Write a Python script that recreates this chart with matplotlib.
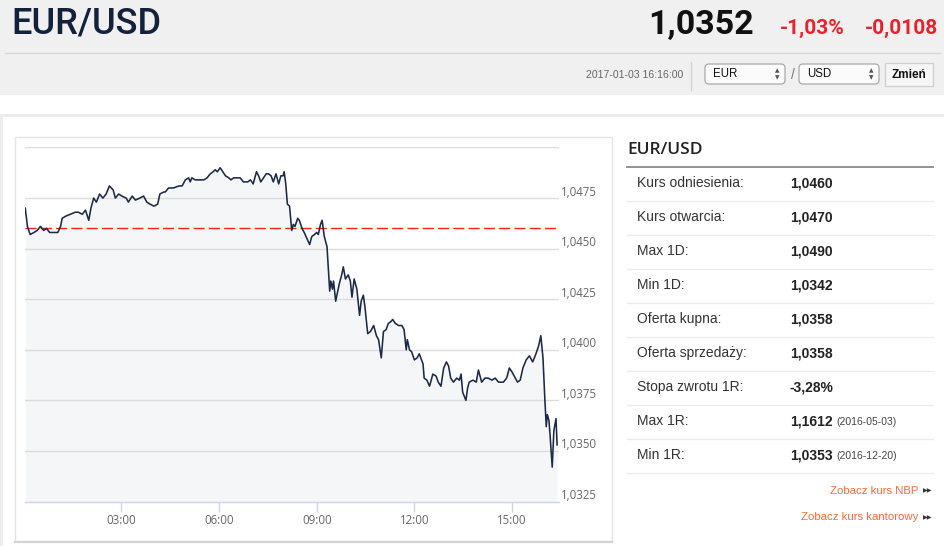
import matplotlib
matplotlib.use('Agg')
import matplotlib.pyplot as plt
from matplotlib.patches import Rectangle, FancyBboxPatch
import matplotlib.transforms as mtransforms

# ---------------- data ----------------
minutes = [3, 7, 12, 19, 25, 31, 37, 42, 48, 55,
           63, 68, 71, 77, 86, 95, 101, 108, 114, 120,
           124, 129, 134, 140, 146, 152, 158, 165, 169, 175,
           181, 189, 193, 200, 206, 214, 221, 227, 233, 240,
           247, 251, 258, 261, 267, 276, 286, 292, 298, 304,
           307, 310, 316, 326, 332, 338, 344, 349, 353, 357,
           362, 367, 372, 378, 382, 387, 393, 399, 405, 413,
           418, 423, 429, 433, 437, 442, 447, 451, 456, 460,
           465, 470, 474, 478, 480, 483, 486, 490, 494, 497,
           500, 505, 508, 513, 517, 522, 527, 531, 536, 540,
           543, 547, 550, 554, 559, 564, 566, 569, 571, 575,
           578, 582, 586, 589, 593, 598, 602, 605, 609, 614,
           619, 622, 626, 629, 634, 639, 645, 650, 654, 659,
           663, 668, 672, 677, 680, 685, 691, 697, 701, 705,
           707, 711, 715, 720, 725, 729, 736, 738, 743, 748,
           754, 760, 764, 769, 774, 779, 783, 787, 792, 798,
           803, 806, 809, 815, 818, 821, 828, 834, 838, 844,
           850, 856, 863, 869, 875, 884, 890, 895, 900, 906,
           910, 915, 920, 926, 932, 938, 944, 949, 953, 957,
           960, 963, 965, 968, 970, 974, 977, 981, 983]
rates = [1.0470, 1.0461, 1.0457, 1.0458, 1.0459, 1.0461, 1.0459, 1.0460, 1.0458, 1.0458,
         1.0458, 1.0461, 1.0465, 1.0466, 1.0467, 1.0468, 1.0468, 1.0467, 1.0469, 1.0464,
         1.0470, 1.0475, 1.0473, 1.0477, 1.0475, 1.0477, 1.0481, 1.0479, 1.0475, 1.0477,
         1.0476, 1.0475, 1.0473, 1.0476, 1.0474, 1.0475, 1.0476, 1.0473, 1.0472, 1.0471,
         1.0472, 1.0477, 1.0478, 1.0478, 1.0480, 1.0480, 1.0481, 1.0481, 1.0484, 1.0485,
         1.0483, 1.0485, 1.0484, 1.0484, 1.0484, 1.0485, 1.0487, 1.0488, 1.0489, 1.0488,
         1.0490, 1.0488, 1.0486, 1.0485, 1.0484, 1.0485, 1.0485, 1.0485, 1.0483, 1.0483,
         1.0484, 1.0482, 1.0488, 1.0486, 1.0483, 1.0485, 1.0487, 1.0487, 1.0486, 1.0483,
         1.0487, 1.0482, 1.0486, 1.0486, 1.0488, 1.0482, 1.0472, 1.0471, 1.0459, 1.0462,
         1.0461, 1.0465, 1.0464, 1.0460, 1.0458, 1.0455, 1.0452, 1.0456, 1.0457, 1.0458,
         1.0457, 1.0462, 1.0464, 1.0456, 1.0451, 1.0429, 1.0434, 1.0430, 1.0434, 1.0424,
         1.0428, 1.0433, 1.0437, 1.0441, 1.0435, 1.0437, 1.0434, 1.0426, 1.0435, 1.0430,
         1.0417, 1.0424, 1.0427, 1.0421, 1.0408, 1.0409, 1.0412, 1.0407, 1.0405, 1.0396,
         1.0409, 1.0410, 1.0413, 1.0414, 1.0415, 1.0413, 1.0412, 1.0412, 1.0410, 1.0400,
         1.0405, 1.0400, 1.0399, 1.0395, 1.0396, 1.0398, 1.0393, 1.0386, 1.0385, 1.0382,
         1.0388, 1.0387, 1.0384, 1.0382, 1.0391, 1.0394, 1.0392, 1.0386, 1.0384, 1.0386,
         1.0385, 1.0388, 1.0379, 1.0375, 1.0381, 1.0384, 1.0385, 1.0384, 1.0390, 1.0384,
         1.0386, 1.0386, 1.0385, 1.0386, 1.0384, 1.0384, 1.0386, 1.0391, 1.0389, 1.0386,
         1.0384, 1.0385, 1.0391, 1.0395, 1.0397, 1.0394, 1.0398, 1.0402, 1.0407, 1.0396,
         1.0378, 1.0362, 1.0368, 1.0365, 1.0358, 1.0342, 1.0360, 1.0366, 1.0353]
reference_rate = 1.0460

x_ticks = [180, 360, 540, 720, 900]
x_tick_labels = ['03:00', '06:00', '09:00', '12:00', '15:00']
y_grid = [1.0325, 1.0350, 1.0375, 1.0400, 1.0425, 1.0450, 1.0475, 1.0500]
y_labelled = [1.0325, 1.0350, 1.0375, 1.0400, 1.0425, 1.0450, 1.0475]
y_tick_labels = ['1,0325', '1,0350', '1,0375', '1,0400', '1,0425', '1,0450', '1,0475']

pair = 'EUR/USD'
last_price = '1,0352'
change_pct = '-1,03%'
change_abs = '-0,0108'
timestamp = '2017-01-03 16:16:00'
base_currency = 'EUR'
quote_currency = 'USD'
button_text = 'Zmień'

row_labels = ['Kurs odniesienia:', 'Kurs otwarcia:', 'Max 1D:', 'Min 1D:',
              'Oferta kupna:', 'Oferta sprzedaży:', 'Stopa zwrotu 1R:',
              'Max 1R:', 'Min 1R:']
row_values = ['1,0460', '1,0470', '1,0490', '1,0342', '1,0358', '1,0358',
              '-3,28%', '1,1612', '1,0353']
row_notes = ['', '', '', '', '', '', '', '(2016-05-03)', '(2016-12-20)']
links = ['Zobacz kurs NBP', 'Zobacz kurs kantorowy']

# ---------------- figure ----------------
W, H = 945, 546
fig = plt.figure(figsize=(W / 100, H / 100), dpi=100)
fig.patch.set_facecolor('white')

bg = fig.add_axes([0, 0, 1, 1], zorder=0)
bg.set_xlim(0, W)
bg.set_ylim(H, 0)
bg.axis('off')

SANS = ['Liberation Sans', 'DejaVu Sans']

# header band
bg.add_patch(Rectangle((0, 0), W, 95, facecolor='#f0f0f0', edgecolor='none'))
bg.plot([5, 940], [53, 53], color='#d6d6d6', lw=1)
bg.text(11, 24, pair, fontsize=26, family=['Roboto', 'DejaVu Sans'], weight='medium',
        color='#13213b', va='center', ha='left')
bg.text(754, 25, last_price, fontsize=24.5, family=['Roboto', 'DejaVu Sans'], weight='bold',
        color='#111111', va='center', ha='right')
bg.text(845, 28, change_pct, fontsize=15, family=['Roboto', 'DejaVu Sans'], weight='bold',
        color='#e8212c', va='center', ha='right')
bg.text(938, 28, change_abs, fontsize=15, family=['Roboto', 'DejaVu Sans'], weight='bold',
        color='#e8212c', va='center', ha='right')

bg.text(683, 75, timestamp, fontsize=7.6, family=SANS, color='#666666',
        va='center', ha='right')
bg.plot([691, 691], [62, 90], color='#d2d2d2', lw=1)

for x0, label in [(705, base_currency), (799, quote_currency)]:
    bg.add_patch(FancyBboxPatch((x0, 64), 80, 20,
                                boxstyle='round,pad=0,rounding_size=4',
                                facecolor='#fbfbfb', edgecolor='#a9a9a9', lw=0.9))
    bg.text(x0 + 8, 74, label, fontsize=8.3, family=SANS, color='#111111',
            va='center', ha='left')
    bg.text(x0 + 72, 70.5, '▲', fontsize=4.2, family=['DejaVu Sans'], color='#555555',
            va='center', ha='center')
    bg.text(x0 + 72, 77.5, '▼', fontsize=4.2, family=['DejaVu Sans'], color='#555555',
            va='center', ha='center')
bg.text(793, 75, '/', fontsize=10, family=SANS, color='#777777', va='center', ha='center')
bg.add_patch(Rectangle((885, 63), 48, 23, facecolor='#f5f5f5', edgecolor='#cfcfcf', lw=0.9))
bg.text(909, 74.5, button_text, fontsize=8.5, family=SANS, weight='bold', color='#111111',
        va='center', ha='center')

# page structure
bg.add_patch(Rectangle((0, 114), W, 3, facecolor='#ececec', edgecolor='none'))
bg.add_patch(Rectangle((0, 117), 3, H - 117, facecolor='#ececec', edgecolor='none'))
bg.add_patch(Rectangle((15, 137), 597, 404, facecolor='white', edgecolor='#e4e4e4', lw=1))
bg.plot([15, 612], [541.5, 541.5], color='#d4d4d4', lw=1.6)

# right panel
bg.text(627, 149.5, pair, fontsize=12.5, family=['Open Sans', 'DejaVu Sans'],
        weight='semibold', color='#222222', va='center', ha='left')
bg.plot([627, 933], [166.5, 166.5], color='#8a8a8a', lw=1.3)
for i, (lab, val, note) in enumerate(zip(row_labels, row_values, row_notes)):
    yy = 183 + 34 * i
    bg.text(637, yy, lab, fontsize=10, family=SANS, color='#333333', va='center', ha='left')
    bg.text(790, yy, val, fontsize=10, family=SANS, weight='bold', color='#222222',
            va='center', ha='left')
    if note:
        bg.text(836, yy + 1, note, fontsize=7.5, family=SANS, color='#444444',
                va='center', ha='left')
    bg.plot([627, 933], [200.5 + 34 * i] * 2, color='#ebebeb', lw=1)

for j, lk in enumerate(links):
    yy = 490.5 + 26.5 * j
    bg.text(918, yy, lk, fontsize=8.2, family=SANS, color='#f26a35', va='center', ha='right')
    bg.text(927.5, yy + 0.5, '▶▶', fontsize=4.5, family=['DejaVu Sans'], color='#333333',
            va='center', ha='center')

# ---------------- chart ----------------
left, right, top, bottom = 25, 559, 147.5, 501.5
ax = fig.add_axes([left / W, (H - bottom) / H, (right - left) / W, (bottom - top) / H],
                  zorder=2)
ax.patch.set_alpha(0)
ax.set_xlim(2.5, 986.5)
ax.set_ylim(1.0325, 1.0500)

ax.fill_between(minutes, rates, 1.0325, color='#f5f6f8', lw=0, zorder=1)
for g in y_grid[1:]:
    ax.axhline(g, color='#dcdcdc', lw=1, zorder=2)
ax.axhline(reference_rate, color='#ff1f1f', lw=1, dashes=(8, 3), zorder=3)
ax.plot(minutes, rates, color='#1c2a48', lw=1.15, zorder=4, solid_joinstyle='round')

for s in ['top', 'left', 'right']:
    ax.spines[s].set_visible(False)
ax.spines['bottom'].set_color('#ccd6eb')
ax.spines['bottom'].set_linewidth(1)
ax.spines['bottom'].set_zorder(5)

ax.set_xticks(x_ticks)
ax.set_xticklabels(x_tick_labels, fontsize=8.3, family=['Open Sans', 'DejaVu Sans'],
                   color='#666666')
ax.tick_params(axis='x', length=7, width=1, color='#ccd6eb', pad=2)
ax.set_yticks([])

trans = mtransforms.blended_transform_factory(ax.transAxes, ax.transData)
trans = mtransforms.offset_copy(trans, fig=fig, x=2, y=2.5, units='dots')
for v, lab in zip(y_labelled, y_tick_labels):
    ax.text(1.0, v, lab, transform=trans, fontsize=8.3, family=['Open Sans', 'DejaVu Sans'],
            color='#666666', va='baseline', ha='left', clip_on=False)

fig.savefig('out.png', dpi=100, facecolor='white')
